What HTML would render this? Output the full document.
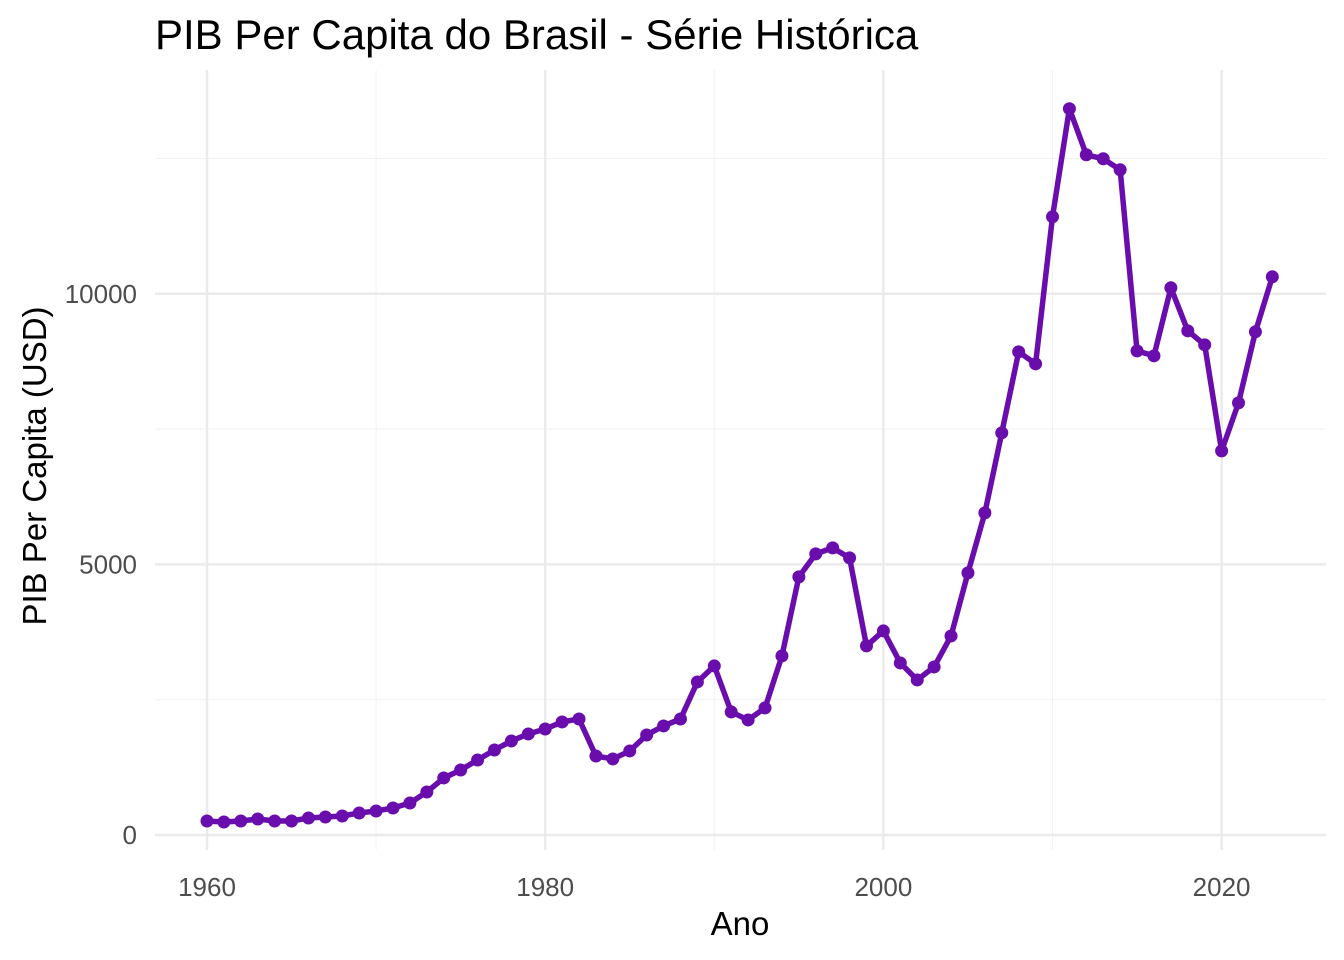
<!DOCTYPE html>
<html><head><meta charset="utf-8"><style>
body{margin:0;background:#fff}
svg{display:block;font-family:"Liberation Sans",sans-serif}
</style></head><body>
<svg id="chart" width="1344" height="960">
<text x="155" y="49" font-size="42" fill="#000">PIB Per Capita do Brasil - Série Histórica</text>
<g id="grid"></g><g id="axes"></g><g id="series"></g>
<text x="740" y="935" font-size="33" text-anchor="middle" fill="#000">Ano</text>
<text transform="translate(46,466) rotate(-90)" font-size="33" text-anchor="middle" fill="#000">PIB Per Capita (USD)</text>
</svg>
<script>
const years=[];for(let y=1960;y<=2023;y++)years.push(y);
const gdp=[259,240,259,296,259,259,314,333,351,407,444,499,591,795,1054,1201,1386,1571,1738,1867,1959,2089,2144,1460,1405,1553,1848,2015,2144,2828,3124,2274,2126,2348,3309,4769,5194,5305,5120,3494,3771,3179,2865,3105,3678,4843,5952,7431,8928,8706,11423,13420,12569,12495,12292,8946,8854,10111,9316,9057,7098,7985,9298,10314];
const xTicks=[1960,1980,2000,2020];
const xMinor=[1970,1990,2010];
const yTicks=[0,5000,10000];
const yMinor=[2500,7500,12500];
const ns="http://www.w3.org/2000/svg";
const X=v=>207+(v-1960)*16.91;
const Y=v=>835-v*0.05412;
const L=155,R=1326,T=70,B=850;
const g=document.getElementById('grid'),a=document.getElementById('axes'),s=document.getElementById('series');
function mk(t,at,p){const e=document.createElementNS(ns,t);for(const k in at)e.setAttribute(k,at[k]);p.appendChild(e);return e;}
yMinor.forEach(v=>{const e=mk('line',{x1:L,x2:R,y1:Y(v),y2:Y(v),stroke:'#f2f2f2','stroke-width':1},g);

});
xMinor.forEach(v=>{const e=mk('line',{x1:X(v),x2:X(v),y1:T,y2:B,stroke:'#f2f2f2','stroke-width':1},g);

});
yTicks.forEach(v=>{const e=mk('line',{x1:L,x2:R,y1:Y(v),y2:Y(v),stroke:'#ebebeb','stroke-width':2.5},g);


const t=mk('text',{x:137,y:Y(v)+9,'font-size':26,fill:'#4d4d4d','text-anchor':'end'},a);t.textContent=v;

});
xTicks.forEach(v=>{const e=mk('line',{x1:X(v),x2:X(v),y1:T,y2:B,stroke:'#ebebeb','stroke-width':2.5},g);


const t=mk('text',{x:X(v),y:896,'font-size':26,fill:'#4d4d4d','text-anchor':'middle'},a);t.textContent=v;

});
const pl=mk('polyline',{points:years.map((y,i)=>X(y)+','+Y(gdp[i])).join(' '),fill:'none',stroke:'#6a0dad','stroke-width':5.5,'stroke-linejoin':'round'},s);


years.forEach((y,i)=>{const c=mk('circle',{cx:X(y),cy:Y(gdp[i]),r:6.5,fill:'#6a0dad'},s);

});
</script>
</body></html>
